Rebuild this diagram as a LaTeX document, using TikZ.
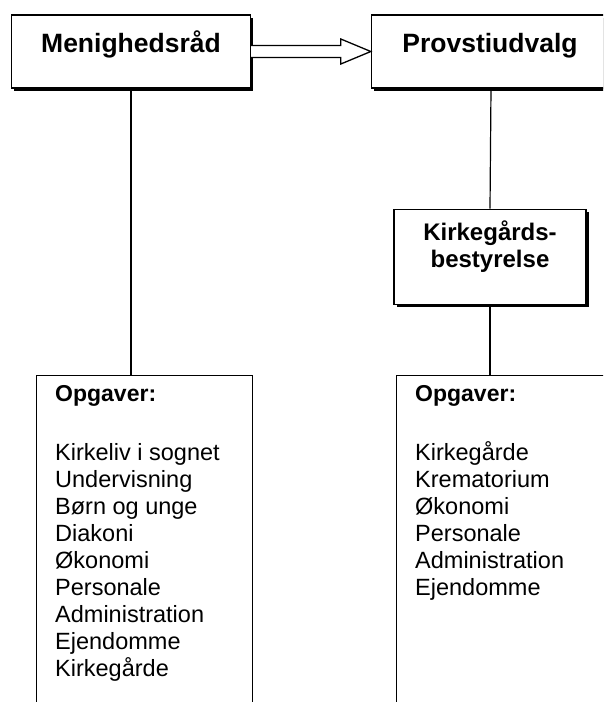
\documentclass[tikz,border=0pt]{standalone}
\usepackage{fontspec}
\setmainfont{Liberation Sans}
\usetikzlibrary{calc,shadows}
\begin{document}
\begin{tikzpicture}[x=1pt,y=-1pt,
  frame/.style={draw=black, line width=1.4pt, fill=white, inner sep=0pt},
  shadowed/.style={frame, drop shadow={shadow xshift=2.8pt, shadow yshift=-2.8pt, fill=black, opacity=1}},
  title/.style={anchor=base, inner sep=0pt, font=\fontsize{26.5}{31}\selectfont\bfseries},
  subtitle/.style={anchor=base, inner sep=0pt, font=\fontsize{24}{27}\selectfont\bfseries},
  head/.style={anchor=base west, inner sep=0pt, font=\fontsize{23}{27}\selectfont\bfseries},
  item/.style={anchor=base west, inner sep=0pt, font=\fontsize{23.5}{27}\selectfont},
  conn/.style={draw=black, line width=1.2pt}
]
\useasboundingbox (0,0) rectangle (603,702);
\clip (0,0) rectangle (603,702);

% top boxes
\node[shadowed, minimum width=239pt, minimum height=73pt] (m) at (131,51.5) {};
\node[title] (mt) at (131,52.7) {Menighedsråd};
\node[shadowed, minimum width=239pt, minimum height=73pt] (p) at (491,51.5) {};
\node[title] (pt) at (490,52.7) {Provstiudvalg};

% hollow block arrow
\draw[line width=1.3pt, fill=white]
  ($(m.east)+(0,-6)$) -- ($(p.west)+(-30,-6)$) -- ($(p.west)+(-30,-12.5)$)
  -- (p.west) -- ($(p.west)+(-30,12.5)$) -- ($(p.west)+(-30,6)$) -- ($(m.east)+(0,6)$);

% Kirkegaards box
\node[shadowed, minimum width=192pt, minimum height=95pt] (k) at (490,256.7) {};
\node[subtitle] (kt1) at (490,240) {Kirkegårds-};
\node[subtitle] (kt2) at (490,267) {bestyrelse};

% bottom boxes (open at the bottom edge of the page)
\node[frame, anchor=north west, minimum width=216pt, minimum height=400pt] (l) at (36,375) {};
\node[frame, anchor=north west, minimum width=216pt, minimum height=400pt] (r) at (396,375) {};

% connectors
\draw[conn] (m.south) -- (m.south |- l.north);
\draw[conn] (p.south) -- (k.north);
\draw[conn] (k.south) -- (k.south |- r.north);

% texts in the bottom boxes
\node[head] (lh) at (55,401.7) {Opgaver:};
\foreach \t [count=\i] in {Kirkeliv i sognet, Undervisning, Børn og unge, Diakoni, Økonomi, Personale, Administration, Ejendomme, Kirkegårde}
  \node[item] (li\i) at (55,{460.7+27*(\i-1)}) {\t};
\node[head] (rh) at (415,401.7) {Opgaver:};
\foreach \t [count=\i] in {Kirkegårde, Krematorium, Økonomi, Personale, Administration, Ejendomme}
  \node[item] (ri\i) at (415,{460.7+27*(\i-1)}) {\t};
\end{tikzpicture}
\end{document}
